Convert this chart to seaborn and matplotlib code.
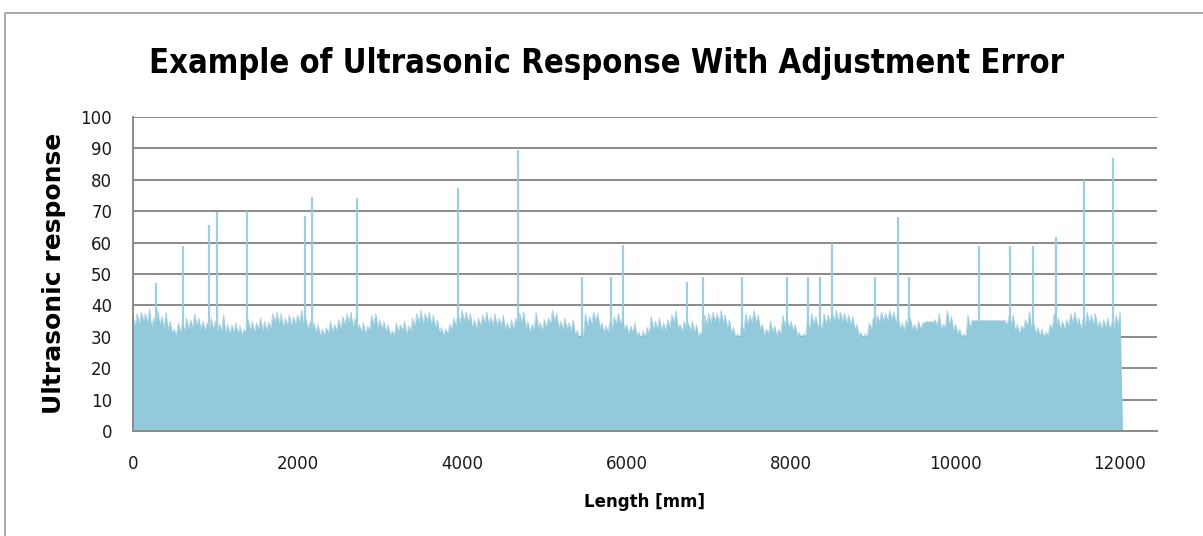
import pandas as pd
import matplotlib
matplotlib.use("Agg")
import matplotlib.pyplot as plt
import seaborn as sns
from matplotlib.patches import Rectangle

sns.set_theme(style="white")
plt.rcParams['font.family'] = ['DejaVu Sans']

# local peaks of the ultrasonic response, read every 50 mm from 0 to 12000 mm
step_mm = 50
peaks = [
    36.5, 37.5, 38, 37.5, 39, 36, 38.5, 36.5, 38, 35, 32.5, 34.5, 34, 36, 35.5, 37.5, 36, 35, 34.5, 36,
    35, 34.3, 37, 34, 33.8, 34.5, 33.5, 32.5, 35.5, 35, 34.5, 36, 35, 34.8, 37.5, 38, 37.5, 36, 37, 36.5,
    37, 38.5, 36, 35, 34.5, 34, 32.5, 33, 35, 34, 35.5, 36.5, 37.5, 38, 36, 34, 34.5, 33.5, 37, 37.5,
    35.5, 35, 34, 32, 34.5, 34, 35, 33.5, 36, 37.5, 38.5, 37.5, 38, 37, 35.5, 33, 32.5, 34, 36, 37,
    38.5, 38, 37.5, 35.5, 36, 37, 38, 36.5, 37.5, 36, 37, 34.5, 35.5, 36, 37.5, 38, 35, 34, 38, 34.5,
    35.5, 36, 38.5, 37.5, 35, 36, 34.5, 35.5, 32, 31, 37.5, 36.5, 38, 37.5, 34.5, 33.5, 35, 36.5, 37.5, 36,
    34, 33.5, 34.5, 31.5, 32, 33, 36.5, 35, 36, 34.5, 35.5, 37, 38.5, 34, 35, 34.5, 35, 34, 31.5, 37,
    37.5, 38, 37.5, 38.5, 37, 35.5, 33, 31, 34, 37.5, 37, 38.5, 37, 34, 32.5, 35, 33.5, 32.5, 37, 36,
    35, 34, 31.5, 31, 35, 37.5, 36.5, 34.5, 37.5, 37, 38, 38.5, 38, 37.5, 37, 36.5, 34, 31.5, 31, 34.5,
    36, 37, 38, 37.5, 38.5, 38, 37, 34.5, 35.5, 36, 34, 35, 34.5, 35, 35, 35.5, 37.5, 34, 38.5, 36.5,
    34, 32.5, 31, 37, 35.2, 35.2, 35.2, 35.2, 35.2, 35.2, 35.2, 35.2, 35.2, 36.5, 37, 34, 33.5, 35.5, 38, 34.5,
    33, 32.5, 31.5, 34, 37.5, 36, 35, 35.5, 37.5, 38, 36, 35.5, 38, 37, 37.5, 35, 35.5, 36, 34.5, 37,
    38,
]
# local troughs between the peaks (at 25, 75, 125 ... mm)
troughs = [
    33.5, 34, 35, 34.5, 33, 33.5, 34, 33, 32.5, 31.5, 30.5, 31.5, 32, 32.5, 33, 33.5, 32.5, 32, 32, 32.5,
    31.5, 32, 31.5, 31, 31.5, 31, 30.5, 31, 32, 31.5, 32.5, 32, 32, 33, 34.5, 34, 33, 33.5, 33.5, 34,
    34.5, 33.5, 32.5, 32, 31.5, 30.5, 30.5, 31, 31.5, 32, 32.5, 34, 34.5, 33, 32, 31.5, 31, 32, 34, 33,
    32.5, 31.5, 30.5, 30.5, 31.5, 32, 31, 32, 33.5, 34.5, 34, 35, 34, 33, 31.5, 30.5, 31, 32.5, 33.5, 34.5,
    35, 34.5, 33, 32.5, 33.5, 34.5, 34, 33.5, 33.5, 33.5, 32.5, 32, 32.5, 33.5, 34.5, 33, 31.5, 32.5, 33, 32,
    33, 34, 35, 33, 32.5, 32.5, 32, 31, 29.5, 30.5, 33.5, 34, 35, 33, 31.5, 31.5, 32.5, 34, 34, 32.5,
    31, 31.5, 30.5, 29.5, 30, 31, 32.5, 32.5, 32, 32, 33, 34.5, 33, 31.5, 32, 32, 31.5, 30, 30.5, 34,
    34.5, 35, 34.5, 34.5, 33, 31.5, 30, 29.5, 32, 34, 34.5, 34.5, 32.5, 30.5, 31, 31.5, 30.5, 31, 33.5, 33,
    32, 30.5, 29.5, 30, 32.5, 34, 33, 32.5, 34, 34.5, 35, 35, 35, 34.5, 34, 32.5, 30.5, 29.5, 30, 32.5,
    33.5, 34.5, 35, 35, 35.5, 34.5, 32.5, 32, 33, 32.5, 32, 32.5, 34.5, 34.7, 34.5, 33.5, 32.5, 33, 34, 32,
    31, 30, 30, 33, 35.2, 35.2, 35.2, 35.2, 35.2, 35.2, 35.2, 35.2, 34, 34, 32, 31, 32.5, 33.5, 32, 31,
    30.5, 30, 30.5, 32.5, 33.5, 32.5, 32.5, 33.5, 34.5, 34, 32.5, 33.5, 34.5, 34, 33, 32.5, 33, 32.5, 32.5, 34,
]
end_mm = 12030
end_val = 0

# isolated echo spikes
spike_mm = [276, 604, 924, 1025, 1386, 2091, 2172, 2720, 3952, 4678, 5455, 5808, 5955, 6733, 6931,
            7402, 7948, 8208, 8354, 8504, 9023, 9299, 9440, 10287, 10664, 10940, 11223, 11564, 11921]
spike_val = [47, 59, 65.6, 69.8, 70, 68.5, 74.6, 74.2, 77.4, 89.5, 49, 49, 59.2, 47.5, 49,
             49, 49, 49, 49, 59.9, 49, 68.2, 49, 59, 59, 59, 61.9, 80, 86.8]

x_ticks = [0, 2000, 4000, 6000, 8000, 10000, 12000]
y_ticks = [0, 10, 20, 30, 40, 50, 60, 70, 80, 90, 100]

# interleave peaks and troughs into one signal
length, response = [], []
for i, p in enumerate(peaks):
    length.append(i * step_mm)
    response.append(p)
    if i < len(troughs):
        length.append(i * step_mm + step_mm // 2)
        response.append(troughs[i])
length.append(end_mm)
response.append(end_val)
df = pd.DataFrame({'Length': length, 'Response': response})

fill = '#92CADC'
grey = '#8a8a8a'

fig = plt.figure(figsize=(12.03, 5.36), dpi=100)
ax = fig.add_axes([133 / 1203, 1 - 431 / 536, 1024 / 1203, 314 / 536])

ax.fill_between(df['Length'], df['Response'], color=fill, lw=0, zorder=2)
sns.lineplot(data=df, x='Length', y='Response', color=fill, lw=0.6, alpha=0.7, ax=ax, zorder=2)
ax.vlines(spike_mm, 0, spike_val, color=fill, lw=1.6, alpha=0.9, zorder=2)

ax.set_xlim(0, 12450)
ax.set_ylim(0, 100)
ax.set_xticks(x_ticks)
ax.set_yticks(y_ticks)
ax.set_xticklabels([str(t) for t in x_ticks])
ax.set_xlabel('')
ax.set_ylabel('')

ax.set_axisbelow(True)
ax.yaxis.grid(True, color=grey, lw=1.4)
ax.xaxis.grid(False)
for s in ['top', 'right']:
    ax.spines[s].set_visible(False)
for s in ['left', 'bottom']:
    ax.spines[s].set_color(grey)
    ax.spines[s].set_linewidth(1.4)
ax.tick_params(axis='both', direction='out', length=6, width=1.2, color=grey,
               labelsize=12, labelcolor='#1a1a1a')
ax.tick_params(axis='y', pad=9)
ax.tick_params(axis='x', pad=11)

fig.text(607 / 1203, 1 - 63 / 536, 'Example of Ultrasonic Response With Adjustment Error',
         ha='center', va='center', fontsize=23.5, fontweight='bold', fontstretch='condensed',
         color='black')
fig.text(54 / 1203, 1 - 273 / 536, 'Ultrasonic response', rotation=90,
         ha='center', va='center', fontsize=18, fontweight='bold', color='black')
fig.text(645 / 1203, 1 - 502 / 536, 'Length [mm]', ha='center', va='center',
         fontsize=12, fontweight='bold', color='black')

# chart frame
fig.patches.append(Rectangle((5 / 1203, -0.05), 1.1, 1 - 13 / 536 + 0.05,
                             transform=fig.transFigure, fill=False,
                             edgecolor='#9a9a9a', lw=1.2))

fig.savefig('out.png', dpi=100)
